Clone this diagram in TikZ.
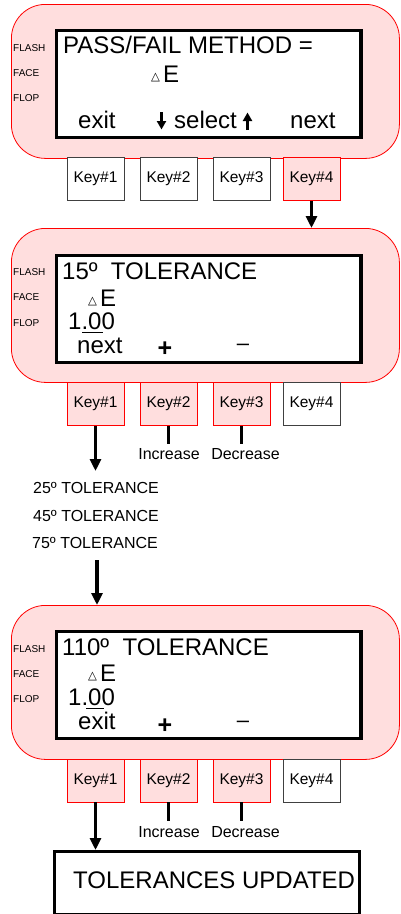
\documentclass[tikz,border=0pt]{standalone}
\usepackage{fontspec}
\setmainfont{Liberation Sans}
\newfontfamily\dejavu{DejaVu Sans}
\usetikzlibrary{arrows.meta}
\definecolor{pinkfill}{RGB}{255,222,222}
\newcommand\fsz[1]{\fontsize{#1}{#1}\selectfont}
\begin{document}
\begin{tikzpicture}[x=1pt,y=-1pt,
  panel/.style={draw=red, fill=pinkfill, line width=0.8pt, rounded corners=34pt, minimum width=388pt, minimum height=154pt, anchor=north west, inner sep=0pt},
  screen/.style={draw=black, fill=white, line width=3.5pt, minimum width=304.5pt, minimum height=107pt, anchor=north west, inner sep=0pt},
  keybase/.style={minimum width=57pt, minimum height=43pt, inner sep=0pt, font=\fsz{15.5}, line width=0.8pt},
  keyp/.style={keybase, draw=red, fill=pinkfill},
  keyw/.style={keybase, draw=black!75, fill=white},
  arr/.style={line width=3.5pt, -{Triangle[width=11pt,length=12pt]}},
  selarr/.style={line width=3pt, -{Triangle[width=9pt,length=8.5pt]}},
  stub/.style={line width=3.5pt},
  txt/.style={anchor=base west, inner sep=0pt},
  big/.style={txt, font=\fsz{24}},
  side/.style={anchor=west, inner sep=0pt, font=\fsz{10}},
  small/.style={txt, font=\fsz{16}},
  dlt/.style={txt, font=\dejavu\fsz{11.5}},
  plus/.style={inner sep=0pt, font=\fsz{25}\bfseries},
  minus/.style={inner sep=0pt, font=\fsz{22}}]
\useasboundingbox (0,0) rectangle (401,914);

% ---------- Panel 1 ----------
\node[panel] (p1) at (11,4) {};
\node[screen] (s1) at (54.75,28.5) {};
\node[side] (f1a) at (13,48) {FLASH};
\node[side] (f1b) at (13,73) {FACE};
\node[side] (f1c) at (13,98) {FLOP};
\node[big] (t1) at (63,53) {PASS/FAIL METHOD =};
\node[dlt] (d1) at (151,80.5) {△};
\node[big] (e1) at (163,82) {E};
\node[big] (x1) at (78,128) {exit};
\node[big] (sel1) at (174,128) {select};
\node[big] (n1) at (290,128) {next};
\draw[selarr] (161.5,112) -- (161.5,129.5);
\draw[selarr] (247.5,130) -- (247.5,112.5);

\node[keyw] (k11) at (95.5,179) {Key\#1};
\node[keyw] (k12) at (168.5,179) {Key\#2};
\node[keyw] (k13) at (241.5,179) {Key\#3};
\node[keyp] (k14) at (311.5,179) {Key\#4};

% ---------- Panel 2 ----------
\node[panel] (p2) at (11,228) {};
\node[screen] (s2) at (54.75,253.5) {};
\node[side] (f2a) at (13,272) {FLASH};
\node[side] (f2b) at (13,297) {FACE};
\node[side] (f2c) at (13,323) {FLOP};
\node[big] (t2) at (62,279) {15º\ \ TOLERANCE};
\node[dlt] (d2) at (88,304.5) {△};
\node[big] (e2) at (100,306) {E};
\node[big] (v2) at (68,329) {1.00};
\draw[line width=1pt] (82,332.5) -- (103,332.5);
\node[big] (n2) at (77,353) {next};
\node[plus] (pl2) at (165,349) {+};
\node[minus] (mi2) at (243,347) {–};

\draw[arr] (k14.south) -- (k14.south |- p2.north);

\node[keyp] (k21) at (95.5,404) {Key\#1};
\node[keyp] (k22) at (168.5,404) {Key\#2};
\node[keyp] (k23) at (241.5,404) {Key\#3};
\node[keyw] (k24) at (311.5,404) {Key\#4};

\node[small, anchor=base] (inc2) at (169,459) {Increase};
\node[small, anchor=base] (dec2) at (245.5,459) {Decrease};
\draw[stub] (k22.south) -- ++(0,18);
\draw[stub] (k23.south) -- ++(0,18);

\coordinate (a2end) at (95.5,471);
\draw[arr] (k21.south) -- (a2end);

\node[small] (l1) at (33,493) {25º TOLERANCE};
\node[small] (l2) at (33,521) {45º TOLERANCE};
\node[small] (l3) at (32,548) {75º TOLERANCE};

% ---------- Panel 3 ----------
\node[panel] (p3) at (11,605) {};
\coordinate (a3start) at (97,560);
\draw[arr] (a3start) -- (a3start |- p3.north);
\node[screen] (s3) at (54.75,629.5) {};
\node[side] (f3a) at (13,649) {FLASH};
\node[side] (f3b) at (13,674) {FACE};
\node[side] (f3c) at (13,699) {FLOP};
\node[big] (t3) at (62,655) {110º\ \ TOLERANCE};
\node[dlt] (d3) at (88,679.5) {△};
\node[big] (e3) at (100,681) {E};
\node[big] (v3) at (68,705) {1.00};
\draw[line width=1pt] (86,708.5) -- (104,708.5);
\node[big] (x3) at (78,729) {exit};
\node[plus] (pl3) at (165,726) {+};
\node[minus] (mi3) at (243,724) {–};

\node[keyp] (k31) at (95.5,780.5) {Key\#1};
\node[keyp] (k32) at (168.5,780.5) {Key\#2};
\node[keyp] (k33) at (241.5,780.5) {Key\#3};
\node[keyw] (k34) at (311.5,780.5) {Key\#4};

\node[small, anchor=base] (inc3) at (169,837) {Increase};
\node[small, anchor=base] (dec3) at (245.5,837) {Decrease};
\draw[stub] (k32.south) -- ++(0,19);
\draw[stub] (k33.south) -- ++(0,19);

% ---------- Final box ----------
\node[draw=black, line width=3pt, fill=white, minimum width=305pt, minimum height=63pt, anchor=north west, inner sep=0pt] (fin) at (52.5,850) {};
\node[big] (fint) at (73,888) {TOLERANCES UPDATED};
\draw[arr] (k31.south) -- (k31.south |- fin.north);
\end{tikzpicture}
\end{document}
